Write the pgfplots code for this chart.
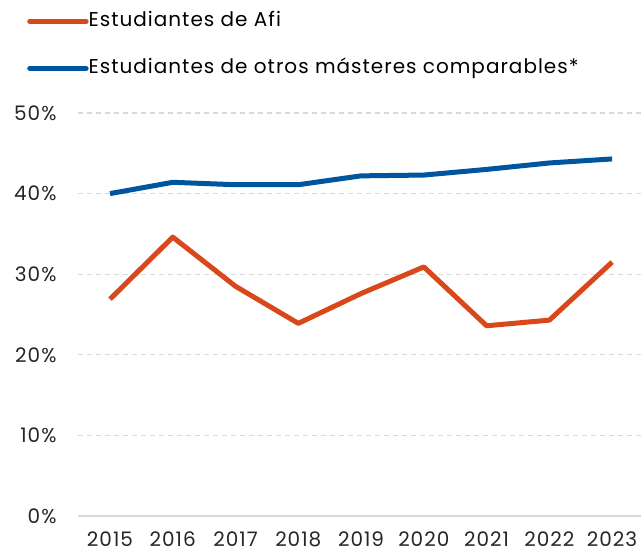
\documentclass[border=0pt]{standalone}
\usepackage{fontspec}
\setmainfont{Poppins}[LetterSpace=5]
\usepackage{pgfplots}
\pgfplotsset{compat=1.18}
\definecolor{afired}{RGB}{217,72,27}
\definecolor{afiblue}{RGB}{0,86,158}
\definecolor{gridgray}{RGB}{217,217,217}

\begin{document}
\begin{tikzpicture}
\path[use as bounding box] (-78pt,-40pt) rectangle (563pt,516pt);
\begin{axis}[
    scale only axis,
    width=563pt, height=403pt,
    at={(0,0)}, anchor=south west,
    xmin=2014.49, xmax=2023.46,
    ymin=0, ymax=50,
    xtick={2015,2016,2017,2018,2019,2020,2021,2022,2023},
    xticklabels={2015,2016,2017,2018,2019,2020,2021,2022,2023},
    ytick={10,20,30,40,50},
    yticklabel={\pgfmathprintnumber{\tick}\%},
    extra y ticks={0},
    extra y tick labels={0\%},
    extra y tick style={grid style={solid, draw=gridgray, line width=1.5pt}},
    /pgf/number format/assume math mode=true,
    ymajorgrids,
    grid style={dashed, draw=gridgray, line width=1.2pt, dash pattern=on 5pt off 4pt},
    axis line style={draw=none},
    major tick length=0pt,
    tick style={draw=none},
    ticklabel style={font=\fontsize{20}{24}\selectfont, text=black!85},
    yticklabel style={xshift=-18pt},
    xticklabel style={yshift=-12pt},
    legend style={at={(-0.0906,1.25)}, anchor=north west, draw=none, fill=none,
        inner sep=0pt, row sep=29pt, font=\fontsize{20}{24}\selectfont,
        nodes={inner sep=0pt, text height=14pt, text depth=4pt}},
    legend cell align=left,
    legend image code/.code={\draw[#1, line width=5.5pt, line cap=round] (0pt,0pt) -- (56pt,0pt);},
    legend style={/tikz/every odd column/.style={xshift=0pt}, /tikz/every even column/.style={xshift=5pt}},
]
\addplot[color=afired, line width=5pt, line join=round, mark=none]
  coordinates {(2015,26.9)(2016,34.6)(2017,28.5)(2018,23.9)(2019,27.6)
               (2020,30.9)(2021,23.6)(2022,24.3)(2023,31.5)};
\addlegendentry{Estudiantes de Afi}
\addplot[color=afiblue, line width=5pt, line join=round, mark=none]
  coordinates {(2015,40.0)(2016,41.4)(2017,41.1)(2018,41.1)(2019,42.2)
               (2020,42.3)(2021,43.0)(2022,43.8)(2023,44.3)};
\addlegendentry{Estudiantes de otros másteres comparables*}
\end{axis}
\end{tikzpicture}
\end{document}
